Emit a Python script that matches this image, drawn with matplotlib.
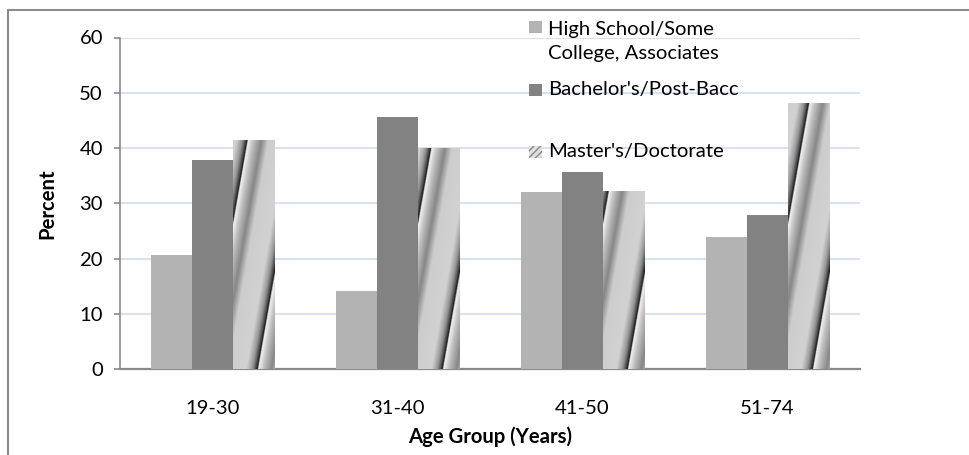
import numpy as np
import matplotlib
matplotlib.use('Agg')
from matplotlib import pyplot as plt
from matplotlib.colors import LinearSegmentedColormap
from matplotlib.patches import Rectangle
from matplotlib.lines import Line2D

age_groups = ['19-30', '31-40', '41-50', '51-74']
high_school = [20.7, 14.2, 32.0, 23.9]
bachelors = [37.8, 45.7, 35.6, 27.9]
masters = [41.4, 40.0, 32.2, 48.1]
series_names = ['High School/Some\nCollege, Associates',
                "Bachelor's/Post-Bacc",
                "Master's/Doctorate"]

plt.rcParams['font.family'] = ['Lato', 'DejaVu Sans']
FS = 14.6

W, H = 970, 455
fig = plt.figure(figsize=(W / 100, H / 100), dpi=100)
ax = fig.add_axes([120 / W, 1 - 369 / H, 740 / W, 331.5 / H])


def fx(px):
    return px / W


def fy(py):
    return 1 - py / H


x = np.arange(len(age_groups))
bw = 0.222
ax.set_xlim(-0.5, 3.5)
ax.set_ylim(0, 60)

ax.bar(x - bw, high_school, bw, color='#b3b3b3', zorder=3)
ax.bar(x, bachelors, bw, color='#828282', zorder=3)
mbars = ax.bar(x + bw, masters, bw, color='none', zorder=3)

# brushed-metal stripes for the third series
metal = LinearSegmentedColormap.from_list('metal', [
    (0.0, '#151515'), (0.015, '#f4f4f4'), (0.12, '#c0c0c0'),
    (0.28, '#878787'), (0.42, '#cdcdcd'), (0.78, '#d2d2d2'),
    (0.90, '#969696'), (0.97, '#4a4a4a'), (1.0, '#151515')])

for bar in mbars:
    x0, y0 = bar.get_x(), bar.get_y()
    x1, y1 = x0 + bar.get_width(), y0 + bar.get_height()
    (px0, py0), (px1, py1) = ax.transData.transform([(x0, y0), (x1, y1)])
    nx = int(round(px1 - px0)) * 2
    ny = int(round(py1 - py0)) * 2
    gx, gy = np.meshgrid(np.linspace(0, px1 - px0, nx),
                         np.linspace(0, py1 - py0, ny))
    u = ((gx - 24 - 0.174 * gy) / 50.0) % 1.0
    ax.imshow(u, cmap=metal, vmin=0, vmax=1, extent=(x0, x1, y0, y1),
              origin='lower', aspect='auto', interpolation='bilinear',
              zorder=3)

ax.set_xlim(-0.5, 3.5)
ax.set_ylim(0, 60)
ax.set_yticks(range(0, 61, 10))
ax.set_xticks(x)
ax.set_xticklabels(age_groups)

ax.yaxis.grid(True, color='#d9e1f2', lw=1.5)
ax.set_axisbelow(True)
for s in ['top', 'right']:
    ax.spines[s].set_visible(False)
ax.spines['left'].set_color('#8a8a8a')
ax.spines['left'].set_linewidth(1.2)
ax.spines['bottom'].set_color('#8a8a8a')
ax.spines['bottom'].set_linewidth(1.6)

ax.tick_params(axis='y', length=4.3, width=1.2, color='#8a8a8a',
               labelsize=FS, pad=8)
ax.tick_params(axis='x', length=0, labelsize=FS, pad=22)

ax.set_xlabel('Age Group (Years)', fontsize=FS, fontweight='bold', va='center')
ax.xaxis.set_label_coords(0.5, (369 - 437) / 331.5)
ax.set_ylabel('Percent', fontsize=FS, fontweight='bold', va='center')
ax.yaxis.set_label_coords((47 - 120) / 740, 0.5)

# legend drawn inside the plot area
colors = ['#b3b3b3', '#828282']
ys = [27, 90]
for c, yy in zip(colors, ys):
    fig.add_artist(Rectangle((fx(529), fy(yy + 6)), 13 / W, 12 / H,
                             transform=fig.transFigure, facecolor=c,
                             edgecolor='none'))
fig.add_artist(Rectangle((fx(529), fy(158)), 13 / W, 12 / H,
                         transform=fig.transFigure, facecolor='#e0e0e0',
                         edgecolor='#8a8a8a', hatch='/////', lw=0))
fig.text(fx(548), fy(42), series_names[0], fontsize=FS, va='center',
         linespacing=1.5)
fig.text(fx(548), fy(90), series_names[1], fontsize=FS, va='center')
fig.text(fx(548), fy(152), series_names[2], fontsize=FS, va='center')

# chart frame
fig.add_artist(Line2D([fx(8), fx(8)], [0, fy(10)], transform=fig.transFigure,
                      color='#8c8c8c', lw=1.5))
fig.add_artist(Line2D([fx(8), 1], [fy(10), fy(10)], transform=fig.transFigure,
                      color='#8c8c8c', lw=1.5))

fig.savefig('out.png', dpi=100)
